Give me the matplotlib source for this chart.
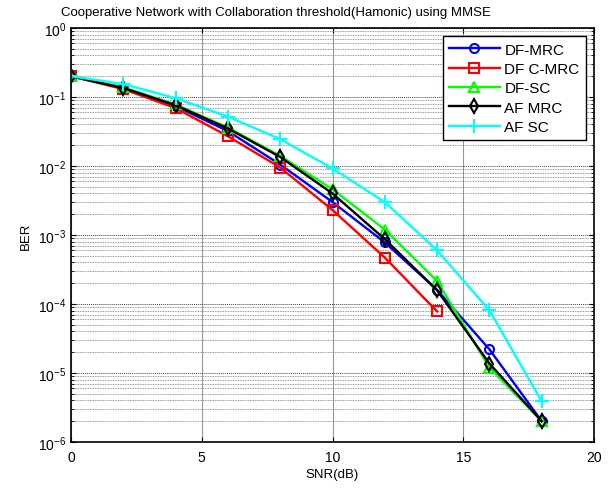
import matplotlib
matplotlib.use("Agg")
import matplotlib.pyplot as plt
from matplotlib.ticker import LogLocator, NullFormatter

plt.rcParams['font.family'] = ['Liberation Sans', 'DejaVu Sans']
plt.rcParams['mathtext.fontset'] = 'custom'
plt.rcParams['mathtext.rm'] = 'Liberation Sans'
plt.rcParams['mathtext.it'] = 'Liberation Sans'

snr = [0, 2, 4, 6, 8, 10, 12, 14, 16, 18]
snr_cmrc = [0, 2, 4, 6, 8, 10, 12, 14]

df_mrc = [0.2, 0.135, 0.074, 0.032, 0.0105, 0.003, 0.00078, 0.00016, 2.2e-5, 2e-6]
df_cmrc = [0.2, 0.13, 0.069, 0.027, 0.0095, 0.0023, 0.00047, 7.8e-5]
df_sc = [0.2, 0.138, 0.078, 0.036, 0.014, 0.0046, 0.0012, 2.15e-4, 1.2e-5, 2e-6]
af_mrc = [0.2, 0.135, 0.076, 0.035, 0.0135, 0.004, 0.00087, 1.58e-4, 1.37e-5, 2e-6]
af_sc = [0.2, 0.154, 0.096, 0.052, 0.0245, 0.0092, 0.003, 6.0e-4, 8.1e-5, 3.9e-6]

fig = plt.figure(figsize=(6.1, 4.89), dpi=100)
ax = fig.add_axes([0.1164, 0.0941, 0.8574, 0.8466])

lw = 1.7
ms = 6.5
ax.semilogy(snr, df_mrc, '-o', color='blue', lw=lw, ms=ms, mfc='none', mew=1.5, label='DF-MRC')
ax.semilogy(snr_cmrc, df_cmrc, '-s', color='red', lw=lw, ms=ms, mfc='none', mew=1.5, label='DF C-MRC')
ax.semilogy(snr, df_sc, '-^', color='#00ff00', lw=lw, ms=ms, mfc='none', mew=1.5, label='DF-SC')
ax.semilogy(snr, af_mrc, '-d', color='black', lw=lw, ms=7.5, mfc='none', mew=1.5, label='AF MRC')
ax.semilogy(snr, af_sc, '-+', color='cyan', lw=lw, ms=10, mew=1.5, label='AF SC')

ax.set_xlim(0, 20)
ax.set_ylim(1e-6, 1)
ax.set_xticks([0, 5, 10, 15, 20])
ax.yaxis.set_major_locator(LogLocator(base=10, numticks=10))
ax.yaxis.set_minor_locator(LogLocator(base=10, subs=range(2, 10), numticks=10))
ax.yaxis.set_minor_formatter(NullFormatter())

ax.grid(True, axis='x', which='major', color='#999999', lw=0.8, ls='-')
ax.grid(True, axis='y', which='major', color='#444444', lw=0.7, ls=(0, (1, 1)))
ax.grid(True, axis='y', which='minor', color='#777777', lw=0.6, ls=(0, (1, 1)))

ax.tick_params(which='both', direction='in', top=True, right=True, labelsize=10)
ax.tick_params(axis='x', pad=6)
for s in ax.spines.values():
    s.set_linewidth(1.2)

ax.set_title('Cooperative Network with Collaboration threshold(Hamonic) using MMSE',
             fontsize=9.5, x=0.392, pad=9)
ax.set_xlabel('SNR(dB)', fontsize=9.5, labelpad=3)
ax.set_ylabel('BER', fontsize=9.5, labelpad=4)

leg = ax.legend(loc='upper right', fontsize=11, fancybox=False, framealpha=1,
                edgecolor='black', handlelength=3.3, handletextpad=0.3,
                borderaxespad=0.55, labelspacing=0.35, borderpad=0.4)
leg.get_frame().set_linewidth(1.0)

fig.savefig('out.png', dpi=100)
